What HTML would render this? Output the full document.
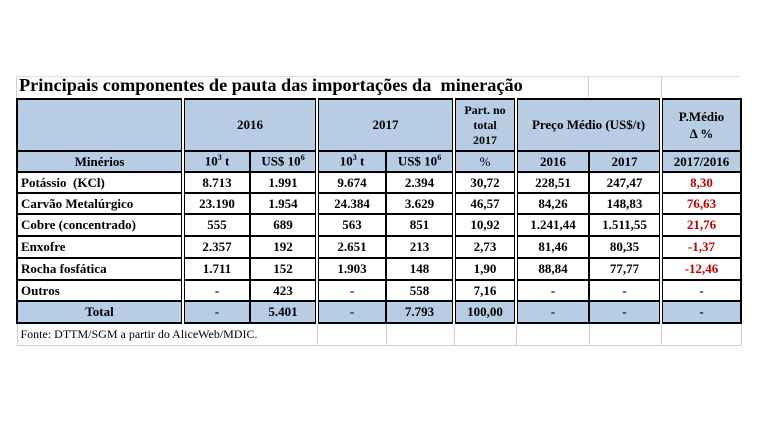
<!DOCTYPE html>
<html><head><meta charset="utf-8"><style>
body{margin:0;width:757px;height:431px;background:#fff;position:relative;overflow:hidden;font-family:"Liberation Serif",serif;}
.title{position:absolute;left:19px;top:75px;font-size:18.3px;font-weight:bold;}
.gl{position:absolute;background:#d0d0d0;width:1px;}
table{position:absolute;left:16px;top:98px;border-collapse:collapse;table-layout:fixed;}
td{border:2px solid #000;padding:0;text-align:center;font-size:13px;font-weight:bold;height:19px;white-space:nowrap;overflow:hidden;}
tr.t td{height:20px;}
td.l{text-align:left;padding-left:3px;}
.h td{background:#b8cce4;}
.d{border-left:4px double #000;}
.r{color:#c00000;}
sup{font-size:8px;}
.f td{border:1px solid #d0d0d0;border-top:2px solid #000;font-weight:normal;font-size:12px;height:21px;}
</style></head><body>
<div class="title">Principais componentes de pauta das importações da&nbsp; mineração</div>
<div class="gl" style="left:588px;top:76px;height:22px"></div>
<div class="gl" style="left:661px;top:76px;height:22px"></div>
<div class="gl" style="left:16px;top:76px;height:22px"></div>
<div style="position:absolute;left:16px;top:76px;width:724px;height:1px;background:#e0e0e0"></div>
<table>
<colgroup><col style="width:166px"><col style="width:67px"><col style="width:67px"><col style="width:69px"><col style="width:68px"><col style="width:62px"><col style="width:73px"><col style="width:72px"><col style="width:80px"></colgroup>
<tr class="h"><td style="height:50px"></td><td colspan="2" class="d">2016</td><td colspan="2" class="d">2017</td><td class="d" style="font-size:12px;line-height:15px">Part. no<br>total<br>2017</td><td colspan="2" class="d">Preço Médio (US$/t)</td><td class="d" style="line-height:17px">P.Médio<br>Δ %</td></tr>
<tr class="h"><td>Minérios</td><td class="d">10<sup>3</sup> t</td><td>US$ 10<sup>6</sup></td><td class="d">10<sup>3</sup> t</td><td>US$ 10<sup>6</sup></td><td class="d" style="font-weight:normal">%</td><td class="d">2016</td><td>2017</td><td class="d">2017/2016</td></tr>
<tr><td class="l">Potássio&nbsp; (KCl)</td><td class="d">8.713</td><td>1.991</td><td class="d">9.674</td><td>2.394</td><td class="d">30,72</td><td class="d">228,51</td><td>247,47</td><td class="d r">8,30</td></tr>
<tr><td class="l">Carvão Metalúrgico</td><td class="d">23.190</td><td>1.954</td><td class="d">24.384</td><td>3.629</td><td class="d">46,57</td><td class="d">84,26</td><td>148,83</td><td class="d r">76,63</td></tr>
<tr class="t"><td class="l">Cobre (concentrado)</td><td class="d">555</td><td>689</td><td class="d">563</td><td>851</td><td class="d">10,92</td><td class="d">1.241,44</td><td>1.511,55</td><td class="d r">21,76</td></tr>
<tr class="t"><td class="l">Enxofre</td><td class="d">2.357</td><td>192</td><td class="d">2.651</td><td>213</td><td class="d">2,73</td><td class="d">81,46</td><td>80,35</td><td class="d r">-1,37</td></tr>
<tr class="t"><td class="l">Rocha fosfática</td><td class="d">1.711</td><td>152</td><td class="d">1.903</td><td>148</td><td class="d">1,90</td><td class="d">88,84</td><td>77,77</td><td class="d r">-12,46</td></tr>
<tr><td class="l">Outros</td><td class="d">-</td><td>423</td><td class="d">-</td><td>558</td><td class="d">7,16</td><td class="d">-</td><td>-</td><td class="d">-</td></tr>
<tr class="h t"><td>Total</td><td class="d">-</td><td>5.401</td><td class="d">-</td><td>7.793</td><td class="d">100,00</td><td class="d">-</td><td>-</td><td class="d">-</td></tr>
<tr class="f"><td colspan="3" class="l" style="border-left:1px solid #d0d0d0">Fonte: DTTM/SGM a partir do AliceWeb/MDIC.</td><td></td><td></td><td></td><td></td><td></td><td></td></tr>
</table>
</body></html>
